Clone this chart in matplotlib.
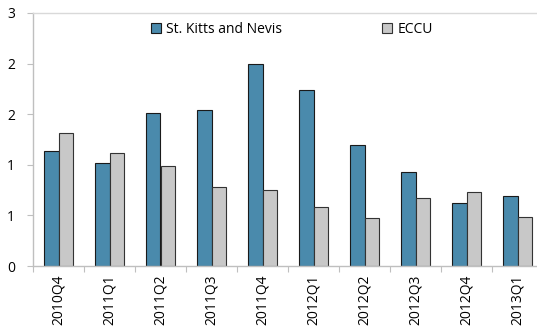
import matplotlib
matplotlib.use("Agg")
import matplotlib.pyplot as plt
import numpy as np

categories = ["2010Q4", "2011Q1", "2011Q2", "2011Q3", "2011Q4",
              "2012Q1", "2012Q2", "2012Q3", "2012Q4", "2013Q1"]
skn = [1.14, 1.02, 1.51, 1.545, 2.00, 1.74, 1.20, 0.93, 0.62, 0.69]
eccu = [1.31, 1.12, 0.99, 0.78, 0.75, 0.58, 0.47, 0.67, 0.73, 0.48]
yticks = [0, 0.5, 1.0, 1.5, 2.0, 2.5]
ytick_labels = ["0", "1", "1", "2", "2", "3"]

plt.rcParams['font.family'] = ['Open Sans', 'DejaVu Sans']

fig = plt.figure(figsize=(5.37, 3.30), dpi=100)
W, H = 537, 330
left, right, top, bottom = 33, 543, 13, 266
ax = fig.add_axes([left / W, 1 - bottom / H, (right - left) / W, (bottom - top) / H])

x = np.arange(len(categories))
bw = 0.285
ax.bar(x - bw / 2, skn, bw, color="#4A8AAC", edgecolor="#1a1a1a", linewidth=0.8,
       label="St. Kitts and Nevis")
ax.bar(x + bw / 2, eccu, bw, color="#C8C8C8", edgecolor="#333333", linewidth=0.8,
       label="ECCU")

ax.set_xlim(-0.5, len(categories) - 0.5)
ax.set_ylim(0, 2.5)
ax.set_yticks(yticks)
ax.set_yticklabels(ytick_labels, fontsize=10)
ax.set_xticks(np.arange(len(categories) + 1) - 0.5)
ax.set_xticklabels([])
ax.set_xticks(x, minor=True)
ax.set_xticklabels(categories, minor=True, rotation=90, fontsize=10)
ax.tick_params(axis="x", which="minor", length=0, pad=6)
ax.tick_params(axis="x", which="major", length=4, color="#BFBFBF", direction="out")
ax.tick_params(axis="y", length=4, color="#BFBFBF", direction="out", pad=9)

for s in ["left", "bottom"]:
    ax.spines[s].set_color("#BFBFBF")
    ax.spines[s].set_linewidth(1)
ax.spines["right"].set_visible(False)
ax.spines["top"].set_color("#D9D9D9")
ax.spines["top"].set_linewidth(1)

fig.legend(loc="upper left", bbox_to_anchor=(151 / W, 1 - 22 / H), ncol=2, frameon=False,
           fontsize=10, handlelength=0.7, handleheight=0.7, handletextpad=0.4,
           columnspacing=7.2, borderpad=0, borderaxespad=0)

fig.savefig("out.png", dpi=100)
